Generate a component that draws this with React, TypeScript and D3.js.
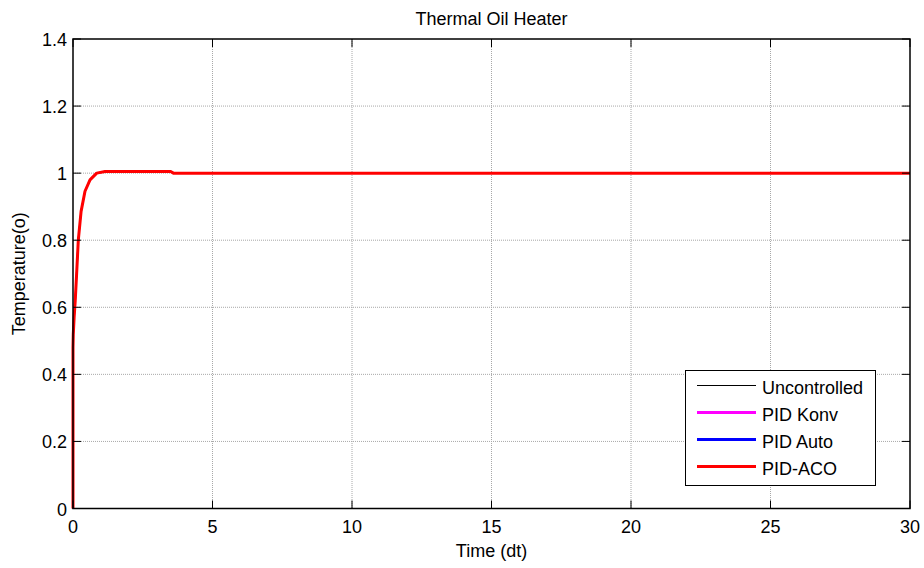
import React from "react";
import * as d3 from "d3";

const W = 924;
const H = 568;

const titleText = "Thermal Oil Heater";
const xLabelText = "Time (dt)";
const yLabelText = "Temperature(o)";

const xTicks = [0, 5, 10, 15, 20, 25, 30];
const yTicks = [0, 0.2, 0.4, 0.6, 0.8, 1, 1.2, 1.4];
const yTickLabels = ["0", "0.2", "0.4", "0.6", "0.8", "1", "1.2", "1.4"];

const timePoints = [0, 0, 0.01, 0.04, 0.08, 0.13, 0.19, 0.29, 0.43, 0.61, 0.85, 1.15, 3.5, 3.6, 30];
const uncontrolledValues = [0, 0.48, 0.52, 0.57, 0.62, 0.7, 0.8, 0.886, 0.946, 0.98, 1.0, 1.005, 1.005, 1.0, 1.0];
const konvValues = [0, 0.48, 0.52, 0.57, 0.62, 0.7, 0.8, 0.886, 0.946, 0.98, 1.0, 1.005, 1.005, 1.0, 1.0];
const autoValues = [0, 0.48, 0.52, 0.57, 0.62, 0.7, 0.8, 0.886, 0.946, 0.98, 1.0, 1.005, 1.005, 1.0, 1.0];
const acoValues = [0, 0.48, 0.52, 0.57, 0.62, 0.7, 0.8, 0.886, 0.946, 0.98, 1.0, 1.005, 1.005, 1.0, 1.0];

const seriesNames = ["Uncontrolled", "PID Konv", "PID Auto", "PID-ACO"];
const seriesColors = ["#000000", "#ff00ff", "#0000ff", "#ff0000"];
const seriesWidths = [0.8, 1.5, 1.5, 3];
const legendWidths = [1, 3, 3, 3];
const seriesValues = [uncontrolledValues, konvValues, autoValues, acoValues];

const FONT = "'Liberation Sans', Arial, sans-serif";
const FS = 18;

export default function App() {
  const left = 73;
  const right = 910;
  const top = 39;
  const bottom = 508.5;
  const x = d3.scaleLinear().domain([0, 30]).range([left, right]);
  const y = d3.scaleLinear().domain([0, 1.4]).range([bottom, top]);
  const tickLen = 8;

  const line = (vals: number[]) =>
    d3
      .line<number>()
      .x((_, i) => x(timePoints[i]))
      .y((d) => y(d))(vals) || "";

  const legX = 685.5;
  const legY = 370.5;
  const legW = 190;
  const legH = 115;
  const legRowY = [385.5, 412.5, 439.5, 466.5];

  return (
    <svg
      width={W}
      height={H}
      style={{ position: "absolute", left: 0, top: 0, background: "#fff" }}
      fontFamily={FONT}
    >
      <rect x={0} y={0} width={W} height={H} fill="#fff" />
      {/* grid */}
      {xTicks.slice(1, -1).map((t) => (
        <line key={"gx" + t} x1={x(t)} x2={x(t)} y1={top} y2={bottom} stroke="#a8a8a8" strokeWidth={1} strokeDasharray="1,1" />
      ))}
      {yTicks.slice(1, -1).map((t) => (
        <line key={"gy" + t} x1={left} x2={right} y1={y(t)} y2={y(t)} stroke="#a8a8a8" strokeWidth={1} strokeDasharray="1,1" />
      ))}
      {/* series */}
      {seriesValues.map((vals, i) => (
        <path key={"s" + i} d={line(vals)} fill="none" stroke={seriesColors[i]} strokeWidth={seriesWidths[i]} strokeLinejoin="round" />
      ))}
      {/* box */}
      <rect x={left} y={top} width={right - left} height={bottom - top} fill="none" stroke="#000" strokeWidth={1.5} />
      {/* ticks */}
      {xTicks.map((t) => (
        <g key={"xt" + t}>
          <line x1={x(t)} x2={x(t)} y1={bottom} y2={bottom - tickLen} stroke="#000" strokeWidth={1} />
          <line x1={x(t)} x2={x(t)} y1={top} y2={top + tickLen} stroke="#000" strokeWidth={1} />
          <text x={x(t)} y={533} fontSize={FS} textAnchor="middle" fill="#000">
            {t}
          </text>
        </g>
      ))}
      {yTicks.map((t, i) => (
        <g key={"yt" + t}>
          <line x1={left} x2={left + tickLen} y1={y(t)} y2={y(t)} stroke="#000" strokeWidth={1} />
          <line x1={right} x2={right - tickLen} y1={y(t)} y2={y(t)} stroke="#000" strokeWidth={1} />
          <text x={67} y={y(t) + 7} fontSize={FS} textAnchor="end" fill="#000">
            {yTickLabels[i]}
          </text>
        </g>
      ))}
      {/* title & labels */}
      <text x={(left + right) / 2} y={25} fontSize={FS} textAnchor="middle" fill="#000">
        {titleText}
      </text>
      <text x={(left + right) / 2} y={557} fontSize={FS} textAnchor="middle" fill="#000">
        {xLabelText}
      </text>
      <text
        transform={`translate(25,${(top + bottom) / 2}) rotate(-90)`}
        fontSize={FS}
        textAnchor="middle"
        fill="#000"
      >
        {yLabelText}
      </text>
      {/* legend */}
      <rect x={legX} y={legY} width={legW} height={legH} fill="#fff" stroke="#000" strokeWidth={1} />
      {seriesNames.map((n, i) => (
        <g key={"l" + i}>
          <line x1={697} x2={756} y1={legRowY[i]} y2={legRowY[i]} stroke={seriesColors[i]} strokeWidth={legendWidths[i]} />
          <text x={762} y={legRowY[i] + 8.5} fontSize={FS} fill="#000">
            {n}
          </text>
        </g>
      ))}
    </svg>
  );
}
